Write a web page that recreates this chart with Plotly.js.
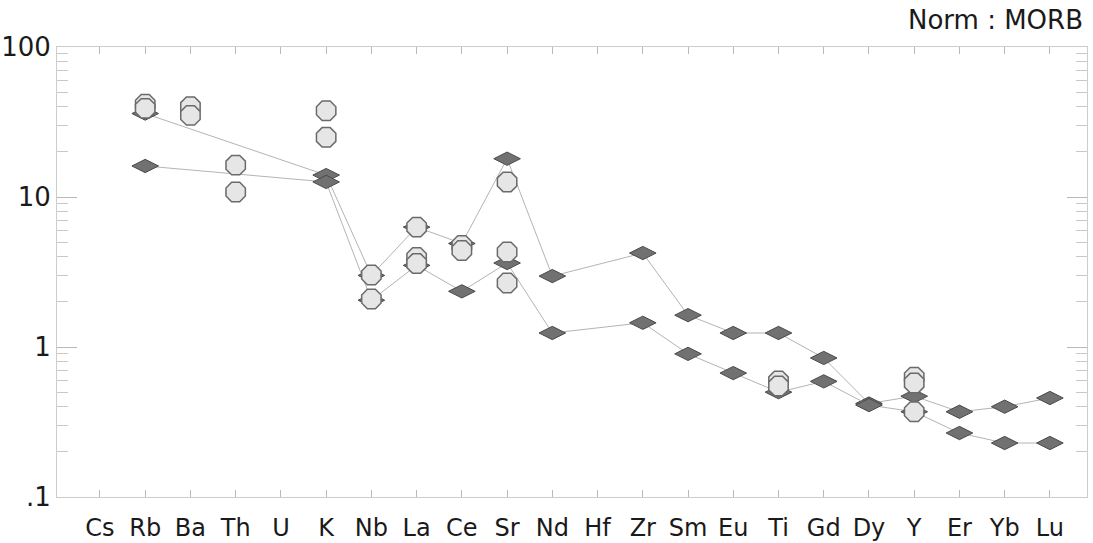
<!DOCTYPE html>
<html>
<head>
<meta charset="utf-8">
<script src="https://cdn.plot.ly/plotly-3.0.1.min.js"></script>
<style>
  html, body { margin: 0; padding: 0; background: #ffffff; }
  #chart { width: 1093px; height: 543px; }
</style>
</head>
<body>
<div id="chart"></div>
<script>
// Element order on the x axis (MORB-normalised spider diagram)
const categories = ['Cs','Rb','Ba','Th','U','K','Nb','La','Ce','Sr','Nd','Hf','Zr','Sm','Eu','Ti','Gd','Dy','Y','Er','Yb','Lu'];

// Diamond samples (joined by lines)
const diamondA = [null, 36, null, null, null, 14.0, 3.0, 6.3, 4.9, 18.0, 2.97, null, 4.23, 1.63, 1.24, 1.24, 0.845, 0.42, 0.47, 0.37, 0.40, 0.457];
const diamondB = [null, 16.1, null, null, null, 12.6, 2.05, 3.5, 2.35, 3.63, 1.24, null, 1.45, 0.90, 0.67, 0.50, 0.59, 0.41, 0.37, 0.267, 0.229, 0.229];

// Octagon samples (markers only)
const octagonA = [null, 41.5, 40, 16.3, null, 37.6, 3.02, 6.3, 4.75, 12.6, null, null, null, null, null, 0.594, null, null, 0.63, null, null, null];
const octagonB = [null, 39, 35, 10.8, null, 25, 2.09, 3.95, 4.4, 4.3, null, null, null, null, null, 0.55, null, null, 0.575, null, null, null];
const octagonC = [null, null, null, null, null, null, null, 3.6, null, 2.67, null, null, null, null, null, null, null, null, 0.37, null, null, null];

// Axis tick labels
const yTickVals = [0.1, 1, 10, 100];
const yTickText = ['.1', '1', '10', '100'];
const normLabel = 'Norm : MORB';

const FONT = 'DejaVu Sans, Liberation Sans, Arial, sans-serif';

function diamondTrace(vals) {
  return {
    type: 'scatter', mode: 'lines+markers', x: categories, y: vals,
    connectgaps: true,
    line: { color: '#b4b4b4', width: 1 },
    marker: { symbol: 'diamond-wide', size: 19, color: '#717171', line: { color: '#4a4a4a', width: 1 } },
    hoverinfo: 'skip'
  };
}
function octagonTrace(vals) {
  return {
    type: 'scatter', mode: 'markers', x: categories, y: vals,
    marker: { symbol: 'octagon', size: 21, color: '#e6e6e6', line: { color: '#6a6a6a', width: 1.5 } },
    hoverinfo: 'skip'
  };
}

const data = [
  diamondTrace(diamondA),
  diamondTrace(diamondB),
  octagonTrace(octagonA),
  octagonTrace(octagonB),
  octagonTrace(octagonC)
];

const layout = {
  width: 1093, height: 543,
  margin: { l: 57, r: 6, t: 47, b: 46 },
  paper_bgcolor: '#ffffff', plot_bgcolor: '#ffffff',
  showlegend: false,
  title: {
    text: normLabel,
    font: { family: FONT, size: 26, color: '#1a1a1a' },
    xref: 'container', x: 1083 / 1093, xanchor: 'right',
    yref: 'container', y: 1 - 20 / 543, yanchor: 'middle'
  },
  xaxis: {
    type: 'category',
    categoryorder: 'array', categoryarray: categories,
    range: [-0.95, 21.82],
    ticks: 'inside', ticklen: 7, tickwidth: 1, tickcolor: '#b8b8b8',
    showline: true, linecolor: '#cccccc', linewidth: 1, mirror: 'ticks',
    showgrid: false, zeroline: false,
    tickfont: { family: FONT, size: 24, color: '#1a1a1a' },
    ticklabelstandoff: 9
  },
  yaxis: {
    type: 'log',
    range: [-1, 2],
    tickmode: 'array', tickvals: yTickVals, ticktext: yTickText,
    ticks: 'inside', ticklen: 20, tickwidth: 1, tickcolor: '#b8b8b8',
    minor: { ticks: 'inside', ticklen: 11, tickwidth: 1, tickcolor: '#c8c8c8', dtick: 'D1', showgrid: false },
    showline: true, linecolor: '#cccccc', linewidth: 1, mirror: 'ticks',
    showgrid: false, zeroline: false,
    tickfont: { family: FONT, size: 26, color: '#1a1a1a' }
  }
};

Plotly.newPlot('chart', data, layout, { staticPlot: true, displayModeBar: false });
</script>
</body>
</html>
